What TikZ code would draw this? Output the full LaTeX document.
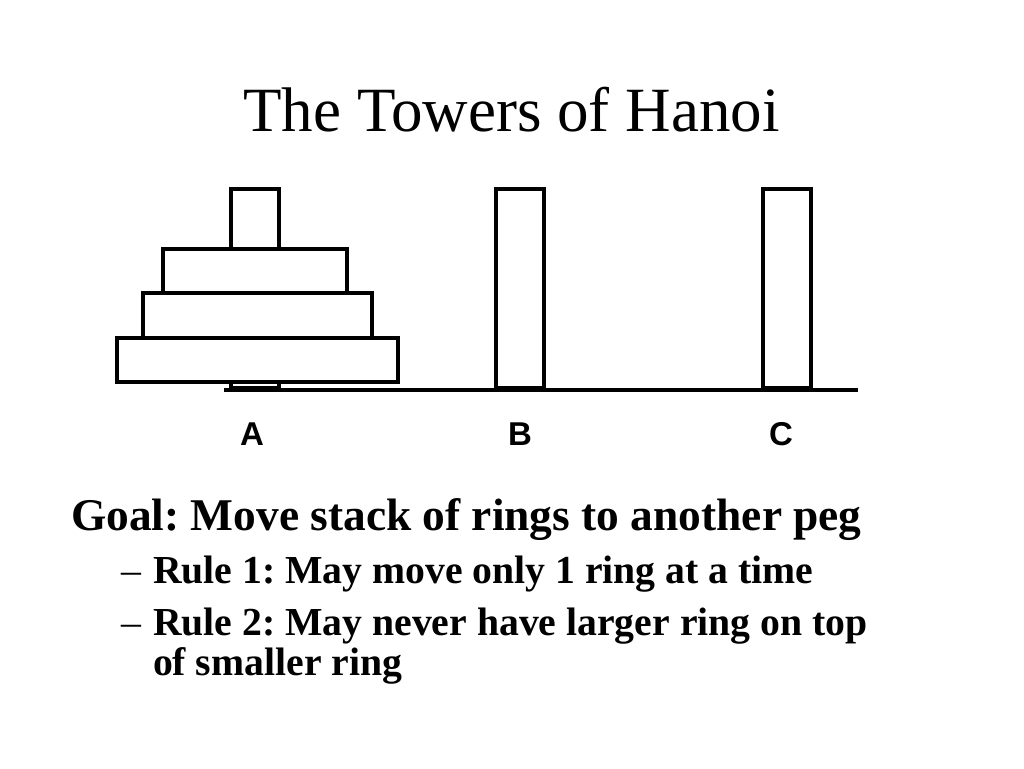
\documentclass[tikz,border=0pt]{standalone}
\usepackage{fontspec}
\setmainfont{Liberation Serif}
\setsansfont{Liberation Sans}
\usetikzlibrary{positioning}
\frenchspacing

\begin{document}
\begin{tikzpicture}[x=1pt,y=-1pt,line width=4pt,
  peg/.style={draw, fill=white, outer sep=0pt, inner sep=0pt, minimum width=48pt, minimum height=199pt},
  ring/.style={draw, fill=white, outer sep=0pt, inner sep=0pt, minimum height=44pt},
  peglabel/.style={anchor=base, font=\sffamily\bfseries\fontsize{33}{33}\selectfont},
  goaltext/.style={anchor=base west, inner sep=0pt, font=\bfseries\fontsize{45.4}{45.4}\selectfont},
  ruletext/.style={anchor=base west, inner sep=0pt, font=\bfseries\fontsize{39.7}{39.7}\selectfont},
  dashtext/.style={anchor=base west, inner sep=0pt, font=\fontsize{39.7}{39.7}\selectfont}]
\useasboundingbox (0,0) rectangle (1024,768);

% title
\node[anchor=base, font=\fontsize{63}{63}\selectfont] (title) at (511.5,131) {The Towers of Hanoi};

% the base and the pegs
\coordinate (baseL) at (224,390);
\coordinate (baseR) at (858,390);
\draw (baseL) -- (baseR);
\node[peg] (pegA) at (255,288.5) {};
\node[peg] (pegB) at (520,288.5) {};
\node[peg] (pegC) at (787,288.5) {};

% the rings on peg A
\node[ring, minimum width=281pt] (ring4) at (257.5,360) {};
\node[ring, minimum width=229pt, minimum height=45pt, above=0pt of ring4] (ring3) {};
\node[ring, minimum width=184pt, above=0pt of ring3, xshift=-2.5pt] (ring2) {};

% peg names
\node[peglabel] (labA) at (252,445) {A};
\node[peglabel] (labB) at (520,445) {B};
\node[peglabel] (labC) at (781,445) {C};

% goal and rules
\node[goaltext] (goal) at (69,530) {Goal: Move stack of rings to another peg};
\node[dashtext] (dash1) at (119,583) {–};
\node[ruletext] (rule1) at (151,583) {Rule 1: May move only 1 ring at a time};
\node[dashtext] (dash2) at (119,635) {–};
\node[ruletext] (rule2) at (151,635) {Rule 2: May never have larger ring on top};
\node[ruletext] (rule2b) at (151,675) {of smaller ring};
\end{tikzpicture}
\end{document}
